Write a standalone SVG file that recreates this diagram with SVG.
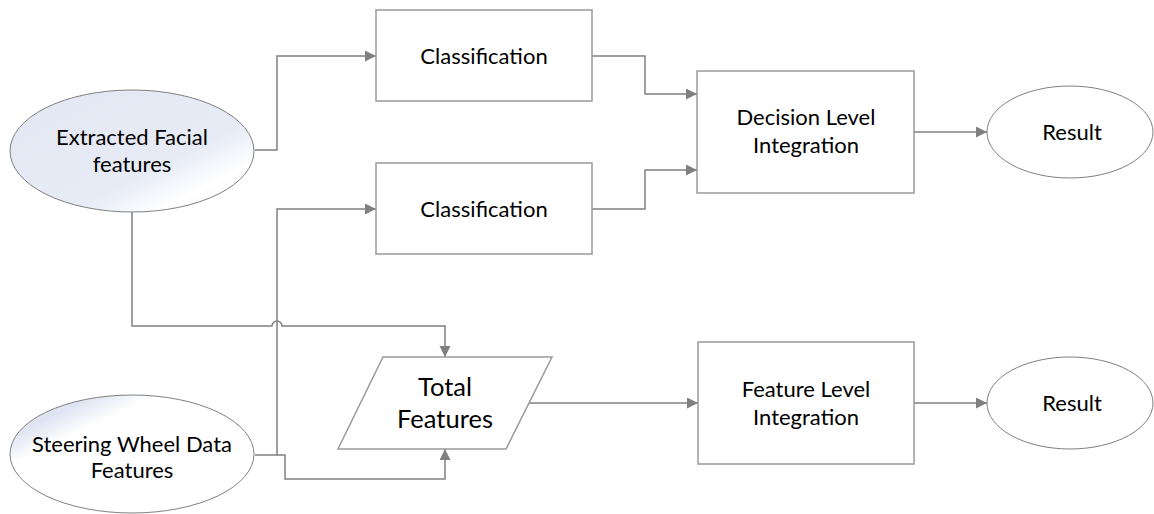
<svg xmlns="http://www.w3.org/2000/svg" width="1154" height="514" viewBox="0 0 1154 514">
  <style>
    .box { fill: #ffffff; stroke: #9a9a9a; stroke-width: 1.5; }
    .oval { stroke: #7f7f7f; stroke-width: 1; }
    .wire { fill: none; stroke: #808080; stroke-width: 1.5; }
    .lbl { font-family: Lato, "Liberation Sans", sans-serif; font-size: 22px; fill: #000000; text-anchor: middle; }
    .big { font-size: 25.5px; }
  </style>
  <defs>
    <marker id="arrow" markerUnits="userSpaceOnUse" markerWidth="12" markerHeight="12" refX="11" refY="5.5" orient="auto">
      <path d="M0,0 L11,5.5 L0,11 z" fill="#808080"/>
    </marker>
    <linearGradient id="gradFace" x1="0" y1="0" x2="1" y2="1">
      <stop offset="0" stop-color="#e2e7f3"/>
      <stop offset="0.62" stop-color="#e6ebf6"/>
      <stop offset="0.8" stop-color="#ffffff"/>
      <stop offset="1" stop-color="#f2f4fa"/>
    </linearGradient>
    <linearGradient id="gradWheel" x1="0" y1="0" x2="1" y2="1">
      <stop offset="0" stop-color="#f3f5fb"/>
      <stop offset="0.17" stop-color="#dde3f2"/>
      <stop offset="0.3" stop-color="#ffffff"/>
      <stop offset="1" stop-color="#ffffff"/>
    </linearGradient>
  </defs>

  <!-- connectors -->
  <g id="connectors">
    <path class="wire" d="M255,150 H277 V56 H376" marker-end="url(#arrow)"/>
    <path class="wire" d="M592,56 H645 V94 H697" marker-end="url(#arrow)"/>
    <path class="wire" d="M592,209 H645 V170 H697" marker-end="url(#arrow)"/>
    <path class="wire" d="M914,132 H987" marker-end="url(#arrow)"/>
    <path class="wire" d="M132,212 V326 H272 A5,5 0 0 1 282,326 H445 V357" marker-end="url(#arrow)"/>
    <path class="wire" d="M255,455 H277 V209 H376" marker-end="url(#arrow)"/>
    <path class="wire" d="M277,455 H285 V479 H445 V449" marker-end="url(#arrow)"/>
    <path class="wire" d="M529,403 H698" marker-end="url(#arrow)"/>
    <path class="wire" d="M914,403 H987" marker-end="url(#arrow)"/>
  </g>

  <g id="facial">
    <ellipse class="oval" cx="132" cy="151" rx="122" ry="61" fill="url(#gradFace)"/>
    <text class="lbl" x="132" y="145">Extracted Facial</text>
    <text class="lbl" x="132" y="172">features</text>
  </g>

  <g id="wheel">
    <ellipse class="oval" cx="132" cy="454" rx="122" ry="59" fill="url(#gradWheel)"/>
    <text class="lbl" x="132" y="452">Steering Wheel Data</text>
    <text class="lbl" x="132" y="478">Features</text>
  </g>

  <g id="classify1">
    <rect class="box" x="376" y="10" width="216" height="91"/>
    <text class="lbl" x="484" y="64">Classification</text>
  </g>

  <g id="classify2">
    <rect class="box" x="376" y="163" width="216" height="91"/>
    <text class="lbl" x="484" y="217">Classification</text>
  </g>

  <g id="decision">
    <rect class="box" x="697" y="71" width="217" height="122"/>
    <text class="lbl" x="806" y="125">Decision Level</text>
    <text class="lbl" x="806" y="153">Integration</text>
  </g>

  <g id="result1">
    <ellipse class="oval" cx="1070" cy="132" rx="83" ry="46" fill="#ffffff"/>
    <text class="lbl" x="1072" y="140">Result</text>
  </g>

  <g id="total">
    <polygon class="box" points="383,357 552,357 506,449 338,449"/>
    <text class="lbl big" x="445" y="396">Total</text>
    <text class="lbl big" x="445" y="428">Features</text>
  </g>

  <g id="featureLevel">
    <rect class="box" x="698" y="342" width="216" height="122"/>
    <text class="lbl" x="806" y="397">Feature Level</text>
    <text class="lbl" x="806" y="425">Integration</text>
  </g>

  <g id="result2">
    <ellipse class="oval" cx="1070" cy="403" rx="83" ry="46" fill="#ffffff"/>
    <text class="lbl" x="1072" y="411">Result</text>
  </g>
</svg>
